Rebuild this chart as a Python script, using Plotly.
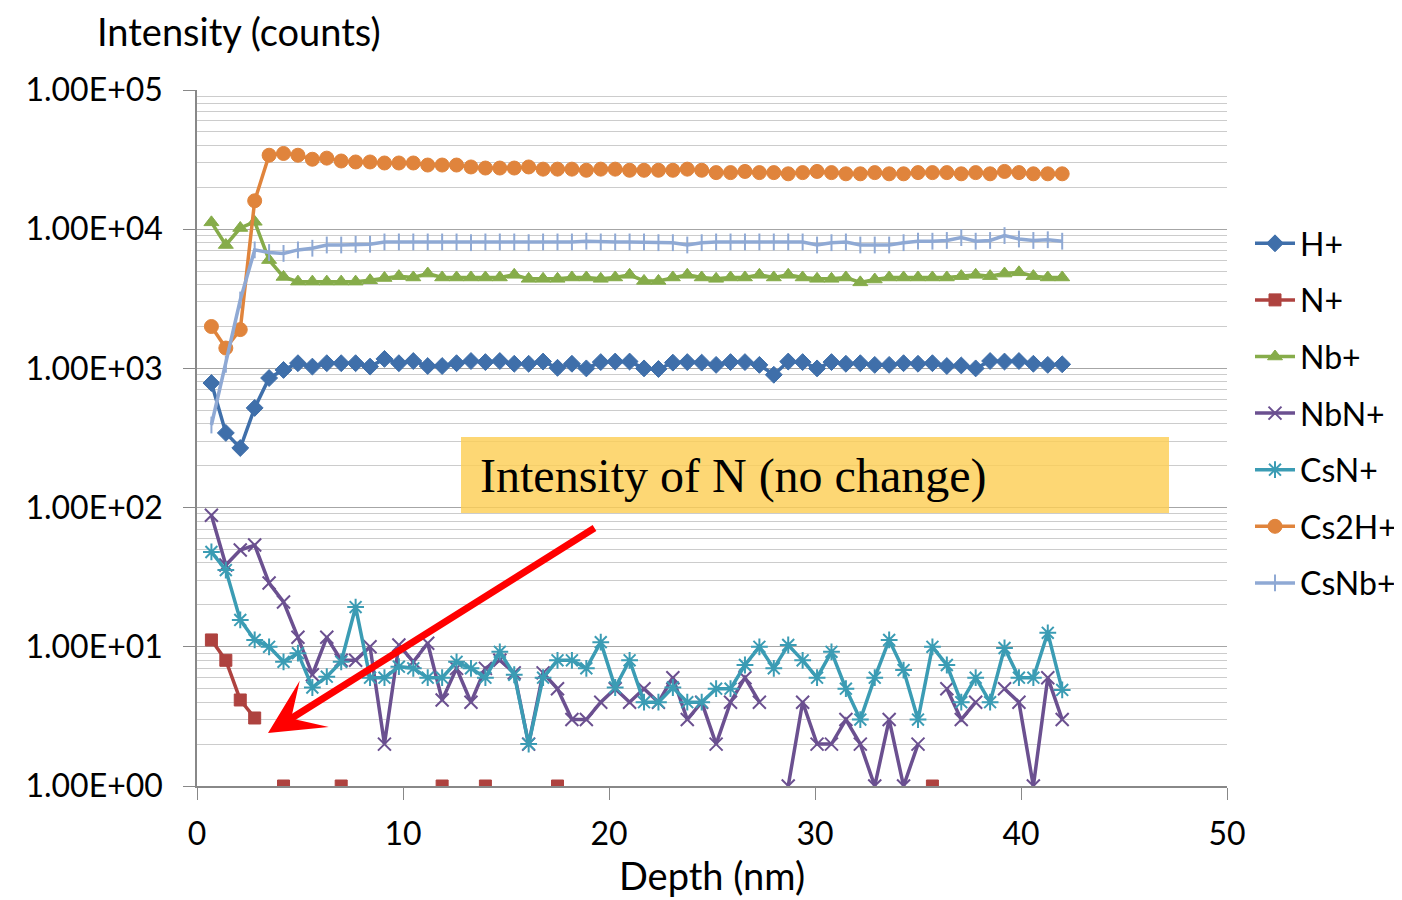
import plotly.graph_objects as go

depth = [0.7, 1.4, 2.1, 2.8, 3.5, 4.2, 4.9, 5.6, 6.3, 7.0,
         7.7, 8.4, 9.1, 9.8, 10.5, 11.2, 11.9, 12.6, 13.3, 14.0,
         14.7, 15.4, 16.1, 16.8, 17.5, 18.2, 18.9, 19.6, 20.3, 21.0,
         21.7, 22.4, 23.1, 23.8, 24.5, 25.2, 25.9, 26.6, 27.3, 28.0,
         28.7, 29.4, 30.1, 30.8, 31.5, 32.2, 32.9, 33.6, 34.3, 35.0,
         35.7, 36.4, 37.1, 37.8, 38.5, 39.2, 39.9, 40.6, 41.3, 42.0]

h_plus = [785, 344, 268, 520, 853, 975, 1090, 1030, 1090, 1090,
          1090, 1030, 1170, 1090, 1130, 1040, 1040, 1090, 1130, 1110,
          1130, 1080, 1080, 1120, 1010, 1080, 1000, 1110, 1120, 1120,
          1000, 990, 1100, 1110, 1100, 1060, 1110, 1110, 1060, 900,
          1120, 1110, 1000, 1110, 1080, 1090, 1060, 1060, 1090, 1080,
          1090, 1040, 1050, 1000, 1130, 1120, 1130, 1080, 1060, 1070]

n_plus = [11.2, 8.0, 4.15, 3.08, None, 1, None, None, None, 1,
          None, None, None, None, None, None, 1, None, None, 1,
          None, None, None, None, 1, None, None, None, None, None,
          None, None, None, None, None, None, None, None, None, None,
          None, None, None, None, None, None, None, None, None, None,
          1, None, None, None, None, None, None, None, None, None]

nb_plus = [11200, 7700, 10200, 11300, 6000, 4540, 4200, 4200, 4200, 4200,
           4200, 4300, 4460, 4600, 4500, 4800, 4500, 4500, 4500, 4500,
           4500, 4700, 4400, 4400, 4400, 4500, 4500, 4400, 4500, 4700,
           4250, 4250, 4500, 4700, 4500, 4400, 4500, 4500, 4700, 4500,
           4700, 4500, 4400, 4400, 4500, 4150, 4350, 4500, 4500, 4500,
           4500, 4500, 4600, 4700, 4600, 4800, 4900, 4600, 4500, 4500]

nbn_plus = [88, 38.7, 49.6, 53.8, 28.7, 21, 11.7, 6.3, 11.7, 8,
            8, 10, 2, 10.3, 7.8, 10.6, 4.15, 7, 4, 7,
            8, 6.5, 2, 6.5, 5, 3, 3, 4, 5, 4,
            5, 4, 6, 3, 4, 2, 4, 6, 4, None,
            1, 4, 2, 2, 3, 2, 1, 3, 1, 2,
            None, 5, 3, 4, None, 5, 4, 1, 6, 3]

csn_plus = [48, 35.6, 15.6, 11.2, 10, 7.8, 9, 5.1, 6.1, 7.8,
            19.3, 6, 6, 7.2, 7, 6, 6, 7.8, 7, 6,
            9.2, 6.3, 2, 6, 8, 8, 7, 10.8, 5.1, 8,
            4, 4, 5.1, 4, 4, 5, 5, 7.4, 10, 7,
            10.3, 8, 6, 9.2, 5, 3, 6, 11.2, 6.8, 3,
            10, 7.4, 4, 6, 4, 9.8, 6, 6, 12.6, 4.9]

cs2h_plus = [2000, 1400, 1900, 16000, 34000, 35000, 34000, 31800, 32400, 30900,
             30400, 30400, 29900, 29900, 29900, 28900, 28900, 28900, 28000, 27500,
             27500, 27500, 28000, 27000, 27000, 27000, 26500, 27000, 27000, 26500,
             26500, 26500, 26500, 27000, 26500, 25500, 25500, 26000, 25500, 25500,
             25000, 25500, 26000, 25500, 25000, 25000, 25500, 25000, 25000, 25500,
             25500, 25500, 25000, 25500, 25000, 26000, 25500, 25000, 25000, 25000]

csnb_plus = [392, 1070, 3100, 7100, 6800, 6700, 7100, 7300, 7700, 7700,
             7800, 7800, 8100, 8100, 8100, 8100, 8100, 8100, 8000, 8100,
             8100, 8100, 8000, 8100, 8100, 8100, 8200, 8100, 8100, 8100,
             8100, 8000, 8000, 7700, 8000, 8100, 8100, 8100, 8100, 8100,
             8100, 8100, 7700, 8000, 8100, 7700, 7700, 7700, 8000, 8200,
             8200, 8300, 8700, 8200, 8300, 9000, 8500, 8300, 8400, 8200]

series = [
    ("H+", h_plus, "#3F6FAA", "diamond", 13, 1),
    ("N+", n_plus, "#AE423F", "square", 12, 1),
    ("Nb+", nb_plus, "#86AC4A", "triangle-up", 13, 1),
    ("NbN+", nbn_plus, "#6B5090", "x-thin-open", 13, 2),
    ("CsN+", csn_plus, "#3B9CB4", "asterisk-open", 14, 2),
    ("Cs2H+", cs2h_plus, "#E0843C", "circle", 14, 1),
    ("CsNb+", csnb_plus, "#8FA9D4", "line-ns-open", 12, 2),
]

ytick_vals = [1, 10, 100, 1000, 10000, 100000]
ytick_text = ["1.00E+00", "1.00E+01", "1.00E+02", "1.00E+03", "1.00E+04", "1.00E+05"]

FONT = "Lato, 'Open Sans', sans-serif"

fig = go.Figure()
for name, vals, color, symbol, size, lw in series:
    fig.add_trace(go.Scatter(
        x=depth, y=vals, name=name, mode="lines+markers",
        legendgroup=name,
        line=dict(color=color, width=3.5),
        marker=dict(symbol=symbol, size=size, color=color,
                    line=dict(color=color, width=lw)),
        connectgaps=False,
    ))

# target plot-area pixel box in the screenshot (page body has 8px margin)
OFF = 8
L, R, T, B = 197, 1227, 90, 786
W, H = 1394, 892

def px_x(p):
    return (p - L) / (R - L)

def px_y(p):
    return (B - p) / (B - T)

fig.update_layout(
    width=W, height=H, autosize=False,
    margin=dict(l=L - OFF, r=W + OFF - R, t=T - OFF, b=H + OFF - B, pad=0,
                autoexpand=False),
    paper_bgcolor="white", plot_bgcolor="white",
    font=dict(family=FONT, size=32, color="black"),
    showlegend=True,
    legend=dict(x=px_x(1250), y=px_y(216), xanchor="left", yanchor="top",
                font=dict(family=FONT, size=32, color="black"),
                tracegroupgap=12, itemwidth=40, bgcolor="rgba(0,0,0,0)"),
    xaxis=dict(range=[0, 50], dtick=10, tick0=0, showgrid=False,
               showline=True, linecolor="#888888", linewidth=1.5,
               ticks="outside", ticklen=12, tickcolor="#888888",
               ticklabelstandoff=7,
               tickfont=dict(family=FONT, size=32, color="black"),
               zeroline=False,
               title=dict(text="Depth (nm)", font=dict(family=FONT, size=38, color="black"),
                          standoff=4)),
    yaxis=dict(type="log", range=[0, 5], tickmode="array",
               tickvals=ytick_vals, ticktext=ytick_text,
               showgrid=True, gridcolor="#A6A6A6", gridwidth=1.3,
               showline=True, linecolor="#888888", linewidth=1.5,
               ticks="outside", ticklen=12, tickcolor="#888888",
               ticklabelstandoff=14,
               tickfont=dict(family=FONT, size=32, color="black"),
               zeroline=False,
               minor=dict(dtick="D1", showgrid=True, gridcolor="#CCCCCC",
                          gridwidth=1.3, ticks="")),
)

# Y axis title at top-left
fig.add_annotation(text="Intensity (counts)", xref="paper", yref="paper",
                   x=px_x(95), y=px_y(31), xanchor="left", yanchor="middle",
                   showarrow=False, font=dict(family=FONT, size=38, color="black"))

# Yellow callout box
fig.add_shape(type="rect", xref="paper", yref="paper",
              x0=px_x(461), x1=px_x(1169), y0=px_y(513), y1=px_y(437),
              fillcolor="rgba(252,206,86,0.82)", line=dict(width=0), layer="above")
fig.add_annotation(text="Intensity of N (no change)", xref="paper", yref="paper",
                   x=px_x(478), y=px_y(476), xanchor="left", yanchor="middle",
                   showarrow=False,
                   font=dict(family="'Liberation Serif', 'Times New Roman', serif",
                             size=48, color="black"))

# Red arrow
fig.add_annotation(text="", xref="paper", yref="paper",
                   x=px_x(268), y=px_y(733), ax=596 - 268, ay=527 - 733,
                   showarrow=True, arrowhead=3, arrowsize=1.3, arrowwidth=7,
                   arrowcolor="#FF0000")

fig.write_html("out.html")
